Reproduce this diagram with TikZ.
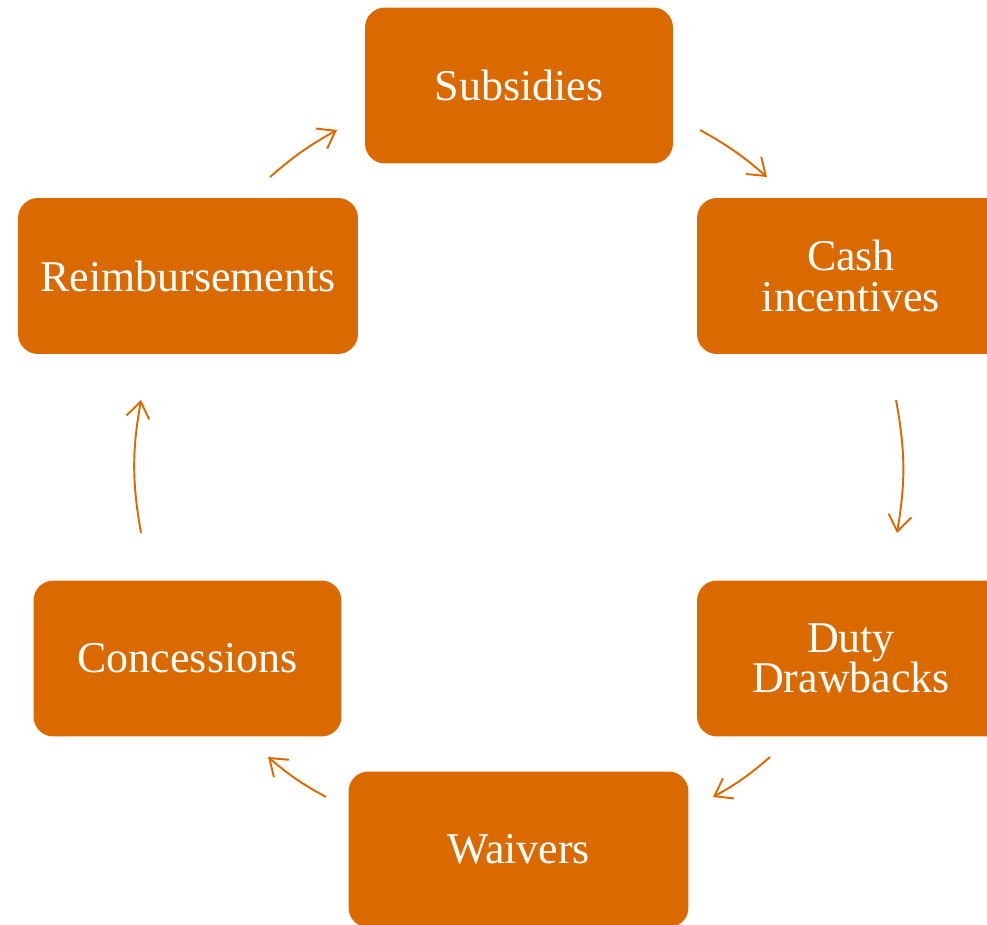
\documentclass[tikz,border=0pt]{standalone}
\usepackage{fontspec}
\setmainfont{Liberation Serif}
\usetikzlibrary{arrows.meta}
\definecolor{burnt}{HTML}{DA6A00}
\begin{document}
\begin{tikzpicture}[x=0.02cm,y=-0.02cm,
        every node/.style={font=\fontsize{25}{23}\selectfont},
        box/.style={fill=burnt,text=white,rounded corners=0.4cm,inner sep=0pt,
          minimum width=6.16cm,minimum height=3.12cm,align=center},
        widebox/.style={box,minimum width=6.8cm},
        link/.style={draw=burnt,line width=1.1pt,bend left=6,
          -{Straight Barb[length=3.2mm,width=4.6mm]}}]
      \useasboundingbox (0,0) rectangle (987,925);
      \clip (0,0) rectangle (987,925);
      \node[box] (sub) at (519,85.5) {Subsidies};
      \node[box] (cash) at (851,276) {Cash\\incentives};
      \node[box] (duty) at (851,658.5) {Duty\\Drawbacks};
      \node[widebox] (waiv) at (518.5,849.5) {Waivers};
      \node[box] (conc) at (187.5,658.5) {Concessions};
      \node[widebox] (reimb) at (188,276) {Reimbursements};
      % arrow ends on the cycle
      \coordinate (sub-out) at (700,130);   \coordinate (cash-in) at (767,177);
      \coordinate (cash-out) at (896,400);  \coordinate (duty-in) at (897,533);
      \coordinate (duty-out) at (770,757);  \coordinate (waiv-in) at (713,797);
      \coordinate (waiv-out) at (326,797);  \coordinate (conc-in) at (268,757);
      \coordinate (conc-out) at (141,533);  \coordinate (reimb-in) at (141,400);
      \coordinate (reimb-out) at (270,177); \coordinate (sub-in) at (337,130);
      \draw[link] (sub-out) to (cash-in);
      \draw[link,bend left=10] (cash-out) to (duty-in);
      \draw[link] (duty-out) to (waiv-in);
      \draw[link] (waiv-out) to (conc-in);
      \draw[link,bend left=10] (conc-out) to (reimb-in);
      \draw[link] (reimb-out) to (sub-in);
\end{tikzpicture}
\end{document}
